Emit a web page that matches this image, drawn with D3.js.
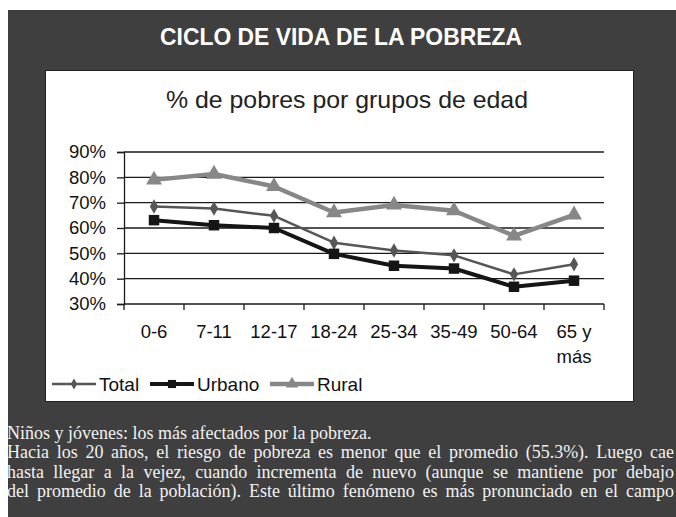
<html>
<head>
<meta charset="utf-8">
<title>Ciclo de vida de la pobreza</title>
<script type="text/javascript" src="https://cdn.jsdelivr.net/npm/d3@7"></script>
<style>
  * { margin: 0; padding: 0; }
  body { background: #ffffff; }
  svg { display: block; }
</style>
</head>
<body>
<div id="chart"></div>
<script type="text/javascript">
// data
var groups = ['0-6', '7-11', '12-17', '18-24', '25-34', '35-49', '50-64', '65 y más'];
var total  = [68.5, 67.7, 64.8, 54.2, 51.1, 49.2, 41.7, 45.7];
var urbano = [63.1, 61.1, 60.0, 49.8, 45.1, 44.0, 36.8, 39.2];
var rural  = [79.0, 81.3, 76.4, 66.1, 69.1, 66.8, 56.9, 65.2];
var yTicks = [30, 40, 50, 60, 70, 80, 90];
var seriesNames = ['Total', 'Urbano', 'Rural'];
var notes = [
  'Niños y jóvenes: los más afectados por la pobreza.',
  'Hacia los 20 años, el riesgo de pobreza es menor que el promedio (55.3%). Luego cae',
  'hasta llegar a la vejez, cuando incrementa de nuevo (aunque se mantiene por debajo',
  'del promedio de la población). Este último fenómeno es más pronunciado en el campo'
];

var W = 676, H = 517;
var svg = d3.select('#chart').append('svg')
    .attr('width', W).attr('height', H);

var font = 'Liberation Sans, Arial, sans-serif';

// dark panel
svg.append('rect').attr('x', 8).attr('y', 10).attr('width', W - 8).attr('height', H - 10)
    .attr('fill', '#3f3f3f');

svg.append('text')
    .attr('x', 341).attr('y', 45)
    .attr('text-anchor', 'middle')
    .attr('fill', '#ffffff')
    .style('font-family', font)
    .style('font-weight', 'bold')
    .style('font-size', '23px')
    .attr('textLength', 362).attr('lengthAdjust', 'spacingAndGlyphs')
    .text('CICLO DE VIDA DE LA POBREZA');

// white chart box
svg.append('rect').attr('x', 45.5).attr('y', 70.5).attr('width', 588).attr('height', 331)
    .attr('fill', '#ffffff').attr('stroke', '#222').attr('stroke-width', 1);

svg.append('text')
    .attr('x', 347).attr('y', 108)
    .attr('text-anchor', 'middle')
    .attr('fill', '#222')
    .style('font-family', font)
    .style('font-size', '24px')
    .attr('textLength', 362).attr('lengthAdjust', 'spacingAndGlyphs')
    .text('% de pobres por grupos de edad');

var x = d3.scaleBand().domain(groups).range([124, 604]);
var y = d3.scaleLinear().domain([30, 90]).range([304, 152]);

// gridlines
svg.append('g').selectAll('line').data(yTicks.slice(1)).enter().append('line')
    .attr('x1', 124).attr('x2', 604)
    .attr('y1', function(d) { return y(d); }).attr('y2', function(d) { return y(d); })
    .attr('stroke', '#1a1a1a').attr('stroke-width', 1.3);

// y axis
var yAxis = svg.append('g').attr('transform', 'translate(124,0)')
    .call(d3.axisLeft(y).tickValues(yTicks).tickSize(7).tickPadding(11)
        .tickFormat(function(d) { return d + '%'; }));
yAxis.select('.domain').attr('stroke', '#1a1a1a').attr('stroke-width', 1.3);
yAxis.selectAll('.tick line').attr('stroke', '#1a1a1a').attr('stroke-width', 1.3);
yAxis.selectAll('text').style('font-family', font).style('font-size', '18.5px').attr('fill', '#111');

// x axis (ticks on category boundaries)
var xAxis = svg.append('g').attr('transform', 'translate(0,304)');
xAxis.append('line').attr('x1', 124).attr('x2', 604).attr('y1', 0).attr('y2', 0)
    .attr('stroke', '#1a1a1a').attr('stroke-width', 1.3);
var bounds = groups.map(function(g) { return x(g); }).concat([x.range()[1]]);
xAxis.selectAll('line.tk').data(bounds).enter().append('line').attr('class', 'tk')
    .attr('x1', function(d) { return d; }).attr('x2', function(d) { return d; })
    .attr('y1', 0).attr('y2', 6)
    .attr('stroke', '#1a1a1a').attr('stroke-width', 1.3);
var xl = xAxis.selectAll('text').data(groups).enter().append('text')
    .attr('x', function(d) { return x(d) + x.bandwidth() / 2; })
    .attr('y', 34)
    .attr('text-anchor', 'middle')
    .style('font-family', font).style('font-size', '18.5px').attr('fill', '#111');
xl.each(function(d) {
  var t = d3.select(this);
  var parts = d === '65 y más' ? ['65 y', 'más'] : [d];
  parts.forEach(function(p, i) {
    t.append('tspan').attr('x', x(d) + x.bandwidth() / 2).attr('dy', i ? 25 : 0).text(p);
  });
});

// series
var series = [
  {name: 'Total', values: total, color: '#565656', width: 2.5, shape: d3.symbolDiamond, size: 60},
  {name: 'Urbano', values: urbano, color: '#151515', width: 4, shape: d3.symbolSquare, size: 110},
  {name: 'Rural', values: rural, color: '#878787', width: 4.5, shape: d3.symbolTriangle, size: 110}
];
var cx = function(i) { return x(groups[i]) + x.bandwidth() / 2; };
var line = d3.line().x(function(d, i) { return cx(i); }).y(function(d) { return y(d); });

series.forEach(function(s) {
  var g = svg.append('g');
  g.append('path').attr('d', line(s.values))
      .attr('fill', 'none').attr('stroke', s.color).attr('stroke-width', s.width)
      .attr('stroke-linejoin', 'round');
  g.selectAll('path.m').data(s.values).enter().append('path').attr('class', 'm')
      .attr('d', d3.symbol().type(s.shape).size(s.size))
      .attr('transform', function(d, i) { return 'translate(' + cx(i) + ',' + y(d) + ')'; })
      .attr('fill', s.color);
});

// legend
var legendX = [52, 150, 270];
var leg = svg.append('g');
series.forEach(function(s, i) {
  var lx = legendX[i], ly = 384;
  leg.append('line').attr('x1', lx).attr('x2', lx + 44).attr('y1', ly).attr('y2', ly)
      .attr('stroke', s.color).attr('stroke-width', s.width);
  leg.append('path').attr('d', d3.symbol().type(s.shape).size(s.size * 0.6))
      .attr('transform', 'translate(' + (lx + 22) + ',' + ly + ')')
      .attr('fill', s.color);
  leg.append('text').attr('x', lx + 47).attr('y', ly + 7)
      .style('font-family', font).style('font-size', '19px').attr('fill', '#111')
      .text(seriesNames[i]);
});

// notes under the chart; lines 2-4 are justified with word spacing
var noteText = svg.append('g').selectAll('text').data(notes).enter().append('text')
    .attr('x', 7).attr('y', function(d, i) { return 439 + i * 19.3; })
    .style('font-family', 'Liberation Serif, Times New Roman, serif')
    .style('font-size', '18px')
    .attr('fill', '#f2f2f2')
    .text(function(d) { return d; });
noteText.each(function(d, i) {
  if (!i) return;
  var natural = this.getComputedTextLength();
  var gaps = d.split(' ').length - 1;
  var extra = (667 - natural) / gaps;
  if (extra > 0) d3.select(this).style('word-spacing', extra + 'px');
});
</script>
</body>
</html>
